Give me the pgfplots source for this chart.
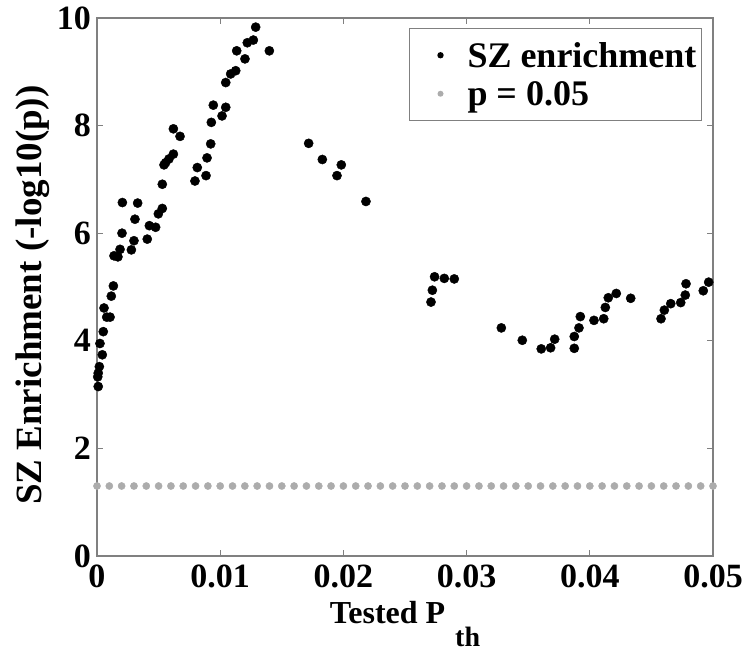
\documentclass[border=0pt]{standalone}
\usepackage{fontspec}
\setmainfont{Liberation Serif}
\usepackage{pgfplots}
\pgfplotsset{compat=1.18}
\definecolor{axgray}{RGB}{128,128,128}
\definecolor{dotgray}{RGB}{172,172,172}
\begin{document}
\begin{tikzpicture}
\begin{axis}[
  at={(0pt,0pt)}, anchor=south west,
  scale only axis,
  width=616pt, height=538pt,
  xmin=0, xmax=0.05, ymin=0, ymax=10,
  xtick={0,0.01,0.02,0.03,0.04,0.05},
  xticklabels={0,0.01,0.02,0.03,0.04,0.05},
  scaled x ticks=false,
  ytick={0,2,4,6,8,10},
  tick align=inside,
  major tick length=6pt,
  axis line style={axgray, line width=1.2pt},
  every tick/.style={axgray, line width=1pt},
  /pgf/number format/assume math mode=true,
  tick label style={font=\fontsize{34}{38}\selectfont\bfseries, inner sep=0pt},
  xticklabel style={yshift=-9pt},
  yticklabel style={xshift=-6pt},
  xlabel={Tested P\hspace{10pt}\raisebox{-23pt}{\fontsize{28}{30}\selectfont th}},
  ylabel={SZ Enrichment (-log10(p))},
  xlabel style={font=\fontsize{32}{36}\selectfont\bfseries, at={(axis description cs:0.5,0)}, anchor=base, yshift=-67pt, inner sep=0pt},
  ylabel style={font=\fontsize{37}{40}\selectfont\bfseries, at={(axis description cs:-0.0893,0.485)}, anchor=base, rotate=0, inner sep=0pt},
  legend style={at={(rel axis cs:1,1)}, anchor=north east, xshift=-11pt, yshift=-10pt,
    draw=axgray, line width=1pt,
    font=\fontsize{36}{40}\selectfont\bfseries, inner xsep=3pt, inner ysep=11pt,
    nodes={inner sep=2pt},
    row sep=7pt},
  legend cell align=left,
]
\addplot[only marks, mark=*, mark size=4.6pt, mark options={fill=black, draw=black},
  legend image code/.code={\path[draw=none,fill=none] (-28pt,0pt) -- (25pt,0pt); \fill[black, draw=none] (0pt,0pt) circle (3.2pt);}]
coordinates {
(0.0001,3.15) (0.00006,3.33) (0.0001,3.40) (0.00019,3.52) (0.00043,3.74)
(0.00024,3.95) (0.00051,4.17) (0.00079,4.44) (0.00106,4.44) (0.00057,4.61)
(0.00116,4.83) (0.00133,5.02) (0.00138,5.58) (0.0017,5.56) (0.00187,5.70)
(0.00203,6.0) (0.00206,6.57) (0.00279,5.69) (0.003,5.86) (0.00308,6.26)
(0.0033,6.56) (0.00408,5.89) (0.00425,6.14) (0.00476,6.11) (0.00498,6.36)
(0.0053,6.46) (0.0053,6.91) (0.00544,7.27) (0.00557,7.31) (0.00584,7.38)
(0.0062,7.47) (0.0062,7.94) (0.00674,7.80) (0.00795,6.97) (0.00814,7.22)
(0.00885,7.07) (0.00893,7.40) (0.00923,7.66) (0.00928,8.06) (0.00944,8.38)
(0.01015,8.18) (0.01045,8.34) (0.01045,8.80) (0.01085,8.96) (0.01126,9.02)
(0.01134,9.39) (0.01201,9.24) (0.0122,9.54) (0.01269,9.59) (0.01288,9.83)
(0.01399,9.39) (0.01718,7.67) (0.01829,7.37) (0.01948,7.07) (0.01983,7.27)
(0.02183,6.59) (0.02711,4.72) (0.02722,4.94) (0.0274,5.19) (0.02819,5.16)
(0.029,5.15) (0.03282,4.24) (0.03452,4.01) (0.03606,3.85) (0.03682,3.87)
(0.03715,4.03) (0.03874,3.86) (0.03874,4.08) (0.03912,4.24) (0.03923,4.45)
(0.04034,4.38) (0.04113,4.41) (0.04126,4.62) (0.0415,4.80) (0.04215,4.88)
(0.04332,4.79) (0.04578,4.41) (0.04605,4.57) (0.04657,4.69) (0.04738,4.71)
(0.04775,4.85) (0.04781,5.06) (0.04921,4.93) (0.04965,5.09)
};
\addlegendentry{\rule[-9pt]{0pt}{35pt}SZ enrichment}
\addplot[only marks, mark=*, mark size=3.6pt, mark options={fill=dotgray, draw=dotgray},
  legend image code/.code={\path[draw=none,fill=none] (-28pt,0pt) -- (25pt,0pt); \fill[dotgray, draw=none] (0pt,0pt) circle (3pt);}]
coordinates {
(0.000,1.301) (0.001,1.301) (0.002,1.301) (0.003,1.301) (0.004,1.301)
(0.005,1.301) (0.006,1.301) (0.007,1.301) (0.008,1.301) (0.009,1.301)
(0.010,1.301) (0.011,1.301) (0.012,1.301) (0.013,1.301) (0.014,1.301)
(0.015,1.301) (0.016,1.301) (0.017,1.301) (0.018,1.301) (0.019,1.301)
(0.020,1.301) (0.021,1.301) (0.022,1.301) (0.023,1.301) (0.024,1.301)
(0.025,1.301) (0.026,1.301) (0.027,1.301) (0.028,1.301) (0.029,1.301)
(0.030,1.301) (0.031,1.301) (0.032,1.301) (0.033,1.301) (0.034,1.301)
(0.035,1.301) (0.036,1.301) (0.037,1.301) (0.038,1.301) (0.039,1.301)
(0.040,1.301) (0.041,1.301) (0.042,1.301) (0.043,1.301) (0.044,1.301)
(0.045,1.301) (0.046,1.301) (0.047,1.301) (0.048,1.301) (0.049,1.301)
(0.050,1.301)
};
\addlegendentry{\rule[-9pt]{0pt}{35pt}p = 0.05}
\end{axis}
\path (-97pt,-95pt) rectangle (648pt,556pt);
\end{tikzpicture}
\end{document}
